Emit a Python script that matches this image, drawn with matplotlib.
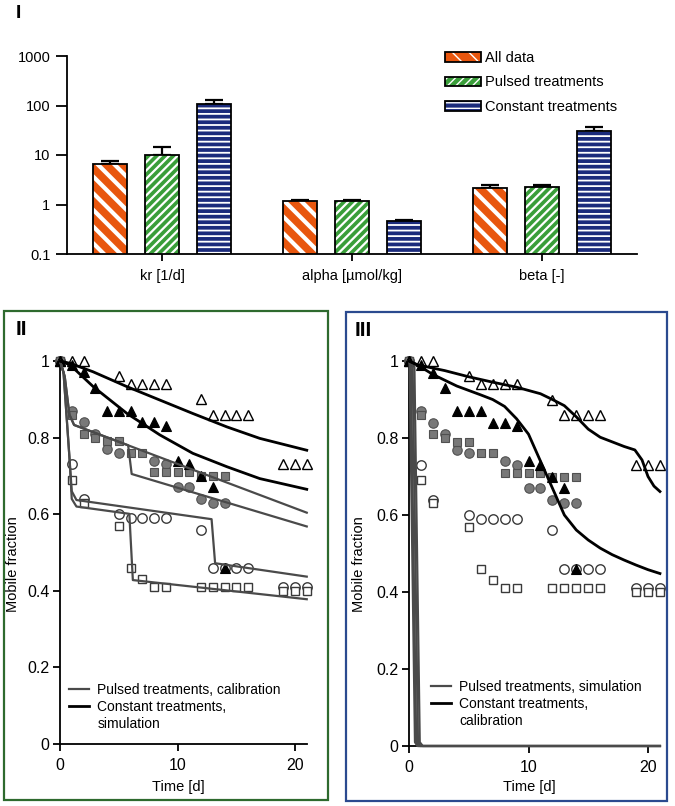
import matplotlib.pyplot as plt
import numpy as np
from matplotlib.lines import Line2D
from matplotlib.patches import Patch, Rectangle
from matplotlib.ticker import NullLocator

plt.rcParams['font.family'] = ['Liberation Sans', 'DejaVu Sans']

# ---- panel I: fitted parameters (log scale) ----
params = ['kr [1/d]', 'alpha [µmol/kg]', 'beta [-]']
series_names = ['All data', 'Pulsed treatments', 'Constant treatments']
all_mean = [6.5, 1.15, 2.2]
all_upper = [7.5, 1.24, 2.5]
pulsed_mean = [10.0, 1.18, 2.24]
pulsed_upper = [14.4, 1.26, 2.45]
const_mean = [108, 0.46, 31]
const_upper = [132, 0.49, 37.5]

# ---- panels II / III: measured mobile fractions ----
open_tri_t = [0, 1, 2, 5, 6, 7, 8, 9, 12, 13, 14, 15, 16, 19, 20, 21]
open_tri_y = [1, 1, 1, 0.96, 0.94, 0.94, 0.94, 0.94, 0.90, 0.86, 0.86, 0.86, 0.86, 0.73, 0.73, 0.73]
fill_tri_t = [0, 1, 2, 3, 4, 5, 6, 7, 8, 9, 10, 11, 12, 13, 14]
fill_tri_y = [1, 0.99, 0.97, 0.93, 0.87, 0.87, 0.87, 0.84, 0.84, 0.83, 0.74, 0.73, 0.70, 0.67, 0.46]
gray_circ_t = [0, 1, 2, 3, 4, 5, 8, 9, 10, 11, 12, 13, 14]
gray_circ_y = [1, 0.87, 0.84, 0.81, 0.77, 0.76, 0.74, 0.73, 0.67, 0.67, 0.64, 0.63, 0.63]
gray_sq_t = [0, 1, 2, 3, 4, 5, 6, 7, 8, 9, 10, 11, 12, 13, 14]
gray_sq_y = [1, 0.86, 0.81, 0.80, 0.79, 0.79, 0.76, 0.76, 0.71, 0.71, 0.71, 0.71, 0.70, 0.70, 0.70]
open_circ_t = [0, 1, 2, 5, 6, 7, 8, 9, 12, 13, 14, 15, 16, 19, 20, 21]
open_circ_y = [1, 0.73, 0.64, 0.60, 0.59, 0.59, 0.59, 0.59, 0.56, 0.46, 0.46, 0.46, 0.46, 0.41, 0.41, 0.41]
open_sq_t = [0, 1, 2, 5, 6, 7, 8, 9, 12, 13, 14, 15, 16, 19, 20, 21]
open_sq_y = [1, 0.69, 0.63, 0.57, 0.46, 0.43, 0.41, 0.41, 0.41, 0.41, 0.41, 0.41, 0.41, 0.40, 0.40, 0.40]

# panel II model curves
p2_const_t = [[0, 0.85, 2.8, 5.7, 8.5, 11.3, 14.2, 17, 21],
              [0, 0.85, 2.83, 5.7, 8.5, 11.3, 14.2, 17, 21]]
p2_const_y = [[1, 0.994, 0.972, 0.933, 0.898, 0.863, 0.828, 0.798, 0.767],
              [1, 0.99, 0.933, 0.863, 0.807, 0.759, 0.724, 0.693, 0.665]]
p2_pulsed_t = [[0, 0.4, 0.8, 1.2, 21],
               [0, 0.4, 0.8, 1.2, 5.8, 6.1, 21],
               [0, 0.3, 0.8, 1.0, 1.4, 12.9, 13.2, 21],
               [0, 0.3, 0.8, 1.0, 1.4, 5.9, 6.2, 21]]
p2_pulsed_y = [[1, 0.96, 0.86, 0.833, 0.604],
               [1, 0.96, 0.86, 0.833, 0.78, 0.705, 0.568],
               [1, 0.97, 0.75, 0.66, 0.637, 0.587, 0.472, 0.437],
               [1, 0.97, 0.75, 0.64, 0.62, 0.601, 0.428, 0.378]]

# panel III model curves
p3_const_t = [[0, 0.7, 3, 5, 7, 9, 11, 12, 13, 14, 15, 16, 17, 18, 18.9, 19.5, 20, 20.5, 21],
              [0, 0.7, 2, 4, 6, 7, 8, 9, 10, 11, 12, 13, 14, 15, 16, 17, 18, 19, 20, 21]]
p3_const_y = [[1, 0.99, 0.975, 0.959, 0.945, 0.932, 0.915, 0.90, 0.884, 0.855, 0.823, 0.802, 0.79,
               0.778, 0.769, 0.743, 0.70, 0.675, 0.661],
              [1, 0.99, 0.965, 0.935, 0.912, 0.9, 0.882, 0.85, 0.81, 0.74, 0.67, 0.60, 0.561, 0.535,
               0.514, 0.497, 0.483, 0.47, 0.458, 0.448]]
p3_pulsed_t = [[0, 0.05, 0.5, 0.7, 21],
               [0, 0.15, 0.6, 0.8, 21],
               [0, 0.3, 0.75, 0.95, 21],
               [0, 0.45, 0.9, 1.15, 21]]
p3_pulsed_y = [[1, 0.99, 0.01, 0, 0],
               [1, 0.99, 0.01, 0, 0],
               [1, 0.99, 0.01, 0, 0],
               [1, 0.99, 0.01, 0, 0]]

W, H = 675, 806
fig = plt.figure(figsize=(W / 100, H / 100), dpi=100)


def fx(px):
    return px / W


def fy(py):
    return 1 - py / H


# ---------------- panel I ----------------
ax1 = fig.add_axes([fx(67), fy(254), fx(637) - fx(67), fy(56) - fy(254)])
colors = ['#E8560E', '#3A9E3A', '#1B2B7C']
hatches = ['\\\\', '////', '---']
hatch_lw = [3.0, 1.6, 1.3]
means = [all_mean, pulsed_mean, const_mean]
uppers = [all_upper, pulsed_upper, const_upper]
width = 0.18
offset = 0.272
xc = np.arange(len(params))
legend_handles = []
for i in range(3):
    x = xc + (i - 1) * offset
    m = np.array(means[i])
    up = np.array(uppers[i])
    ax1.errorbar(x, m, yerr=[np.zeros(3), up - m], fmt='none', ecolor='black',
                 elinewidth=1.6, capsize=6.3, capthick=1.6, zorder=1)
    bars = ax1.bar(x, m, width, color=colors[i], edgecolor='white', hatch=hatches[i],
                   linewidth=0, zorder=2)
    for b in bars:
        if hasattr(b, 'set_hatch_linewidth'):
            b.set_hatch_linewidth(hatch_lw[i])
    ax1.bar(x, m, width, fill=False, edgecolor='black', linewidth=1.3, zorder=3)
    p_fill = Patch(facecolor=colors[i], edgecolor='white', hatch=hatches[i], linewidth=0)
    if hasattr(p_fill, 'set_hatch_linewidth'):
        p_fill.set_hatch_linewidth(hatch_lw[i])
    p_edge = Patch(fill=False, edgecolor='black', linewidth=1.3)
    legend_handles.append((p_fill, p_edge))

ax1.set_yscale('log')
ax1.set_ylim(0.1, 1000)
ax1.set_xlim(-0.5, 2.5)
ax1.set_yticks([0.1, 1, 10, 100, 1000])
ax1.set_yticklabels(['0.1', '1', '10', '100', '1000'])
ax1.yaxis.set_minor_locator(NullLocator())
ax1.set_xticks(xc)
ax1.set_xticklabels(params)
ax1.tick_params(axis='y', length=8, width=1.3, pad=4, labelsize=10.5)
ax1.tick_params(axis='x', length=5, width=1.3, pad=6, labelsize=10.5)
for s in ['top', 'right']:
    ax1.spines[s].set_visible(False)
for s in ['left', 'bottom']:
    ax1.spines[s].set_linewidth(1.3)
ax1.legend(legend_handles, series_names, loc='upper left', bbox_to_anchor=(fx(445), fy(51)),
           bbox_transform=fig.transFigure, frameon=False, fontsize=10.5, borderpad=0,
           borderaxespad=0, handlelength=2.45, handleheight=0.62, handletextpad=0.3,
           labelspacing=0.72)
fig.text(fx(16), fy(5), 'I', fontsize=14, fontweight='bold', va='top', ha='left')

# ---------------- panels II and III ----------------
GRAY_LINE = '#4a4a4a'


def draw_markers(ax):
    kw = dict(linestyle='none', clip_on=False, zorder=2)
    ax.plot(open_circ_t, open_circ_y, marker='o', ms=6.8, mfc='white', mec='#3a3a3a', mew=1.0, **kw)
    ax.plot(open_sq_t, open_sq_y, marker='s', ms=6.0, mfc='white', mec='#3a3a3a', mew=1.0, **kw)
    ax.plot(gray_circ_t, gray_circ_y, marker='o', ms=6.8, mfc='#787878', mec='#505050', mew=0.8, **kw)
    ax.plot(gray_sq_t, gray_sq_y, marker='s', ms=6.0, mfc='#787878', mec='#505050', mew=0.8, **kw)
    ax.plot(open_tri_t, open_tri_y, marker='^', ms=6.8, mfc='white', mec='black', mew=1.0, **kw)
    ax.plot(fill_tri_t, fill_tri_y, marker='^', ms=6.8, mfc='black', mec='black', mew=0.8, **kw)


def style_axes(ax):
    ax.set_xlim(0, 21)
    ax.set_ylim(0, 1)
    ax.set_xticks([0, 10, 20])
    ax.set_yticks([0, 0.2, 0.4, 0.6, 0.8, 1])
    ax.set_yticklabels(['0', '0.2', '0.4', '0.6', '0.8', '1'])
    ax.tick_params(length=5, width=1.3, labelsize=11.5)
    ax.tick_params(axis='y', pad=2.5)
    ax.tick_params(axis='x', pad=5)
    for s in ['top', 'right']:
        ax.spines[s].set_visible(False)
    for s in ['left', 'bottom']:
        ax.spines[s].set_linewidth(1.3)


def panel_legend(ax, labels, x0, y0):
    handles = [Line2D([0], [0], color=GRAY_LINE, lw=1.6),
               Line2D([0], [0], color='black', lw=2.0),
               Line2D([0], [0], color='none', lw=0)]
    ax.legend(handles, labels, loc='upper left', bbox_to_anchor=(fx(x0), fy(y0)),
              bbox_transform=fig.transFigure, frameon=False, fontsize=10, borderpad=0,
              borderaxespad=0, handlelength=1.45, handletextpad=0.58, labelspacing=0.22)


# panel II
ax2 = fig.add_axes([fx(60), fy(744), fx(60 + 21 * 11.75) - fx(60), fy(361) - fy(744)])
draw_markers(ax2)
for t, y in zip(p2_pulsed_t, p2_pulsed_y):
    ax2.plot(t, y, color=GRAY_LINE, lw=1.6, clip_on=False, zorder=3)
for t, y in zip(p2_const_t, p2_const_y):
    ax2.plot(t, y, color='black', lw=2.0, clip_on=False, zorder=4)
style_axes(ax2)
panel_legend(ax2, ['Pulsed treatments, calibration', 'Constant treatments,', 'simulation'], 69, 683)
fig.text(fx(178), fy(787), 'Time [d]', ha='center', va='center', fontsize=10.5)
fig.text(fx(13), fy(564), 'Mobile fraction', ha='center', va='center', rotation=90, fontsize=10.5)
fig.text(fx(16), fy(320), 'II', fontsize=15, fontweight='bold', va='top', ha='left')
fig.add_artist(Rectangle((fx(4), fy(800)), fx(328) - fx(4), fy(311) - fy(800),
                         transform=fig.transFigure, fill=False, edgecolor='#2E6A2E', lw=1.6))

# panel III
ax3 = fig.add_axes([fx(409), fy(746), fx(409 + 21 * 11.95) - fx(409), fy(361) - fy(746)])
draw_markers(ax3)
for t, y in zip(p3_pulsed_t, p3_pulsed_y):
    ax3.plot(t, y, color=GRAY_LINE, lw=1.6, clip_on=False, zorder=3)
for t, y in zip(p3_const_t, p3_const_y):
    ax3.plot(t, y, color='black', lw=2.0, clip_on=False, zorder=4)
style_axes(ax3)
panel_legend(ax3, ['Pulsed treatments, simulation', 'Constant treatments,', 'calibration'], 431, 680)
fig.text(fx(529), fy(787), 'Time [d]', ha='center', va='center', fontsize=10.5)
fig.text(fx(359), fy(564), 'Mobile fraction', ha='center', va='center', rotation=90, fontsize=10.5)
fig.text(fx(355), fy(321), 'III', fontsize=15, fontweight='bold', va='top', ha='left')
fig.add_artist(Rectangle((fx(346), fy(801)), fx(667) - fx(346), fy(312) - fy(801),
                         transform=fig.transFigure, fill=False, edgecolor='#2B4A8F', lw=1.6))

fig.savefig('out.png', dpi=100)
